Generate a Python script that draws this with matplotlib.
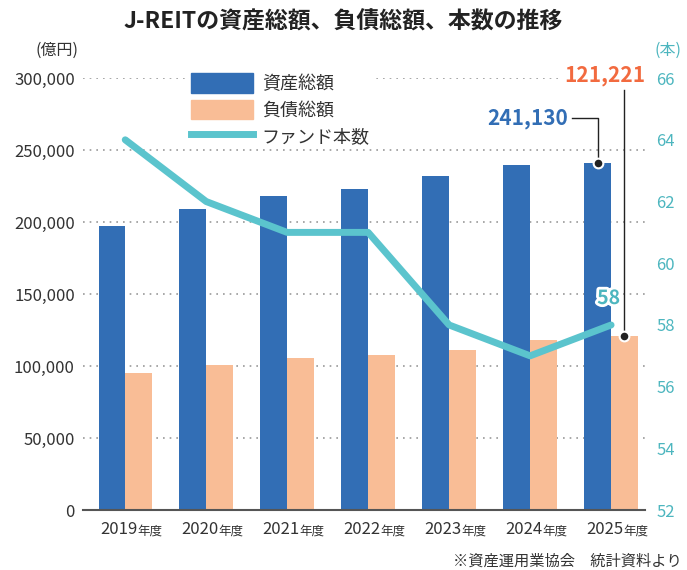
import matplotlib.pyplot as plt
import matplotlib.patheffects as pe
import numpy as np
from matplotlib.lines import Line2D
from matplotlib.patches import Patch

plt.rcParams["font.family"] = ["Noto Sans CJK JP", "DejaVu Sans"]

years = ["2019", "2020", "2021", "2022", "2023", "2024", "2025"]
assets = [197000, 209000, 218000, 223000, 232000, 239500, 241130]
debts = [95000, 101000, 105500, 108000, 111500, 118000, 121221]
funds = [64, 62, 61, 61, 58, 57, 58]
left_ticks = [0, 50000, 100000, 150000, 200000, 250000, 300000]
right_ticks = [52, 54, 56, 58, 60, 62, 64, 66]

BLUE = "#326eb5"
PEACH = "#f9bd96"
TEAL = "#5bc4cd"
TEAL_TXT = "#4db6bf"
ORANGE = "#f26a3f"
GRAY = "#333333"

fig = plt.figure(figsize=(6.87, 5.7), dpi=100)
ax = fig.add_axes([0.121, 0.105, 0.818, 0.758])
x = np.arange(len(years))
w = 0.33

ax.bar(x - w / 2, assets, w, color=BLUE, zorder=2)
ax.bar(x + w / 2, debts, w, color=PEACH, zorder=2)
ax.set_xlim(-0.52, 6.42)
ax.set_ylim(0, 300000)
ax.set_yticks(left_ticks)
ax.set_yticklabels([f"{v:,}" for v in left_ticks], fontsize=12, color=GRAY)
ax.yaxis.grid(True, linestyle=(0, (1, 3)), color="#999999", linewidth=1.2, zorder=0)
ax.tick_params(length=0, pad=6)
ax.set_xticks(x)
ax.set_xticklabels([])
for s in ["top", "left", "right"]:
    ax.spines[s].set_visible(False)
ax.spines["bottom"].set_color("#555555")
ax.spines["bottom"].set_linewidth(1.5)
ax.spines["bottom"].set_zorder(3)

# year labels: big digits, small "年度"
for xi, y in zip(x, years):
    ax.annotate(y, (xi, 0), xytext=(9, -8), textcoords="offset points",
                ha="right", va="top", fontsize=12, color=GRAY)
    ax.annotate("年度", (xi, 0), xytext=(9, -10.5), textcoords="offset points",
                ha="left", va="top", fontsize=9, color=GRAY)

ax2 = ax.twinx()
ax2.plot(x, funds, color=TEAL, linewidth=5, solid_capstyle="round",
         solid_joinstyle="round", zorder=3)
ax2.set_ylim(52, 66)
ax2.set_yticks(right_ticks)
ax2.set_yticklabels([str(v) for v in right_ticks], fontsize=12, color=TEAL_TXT)
ax2.tick_params(length=0, pad=8)
for s in ["top", "left", "right", "bottom"]:
    ax2.spines[s].set_visible(False)

ax2.text(x[-1] - 0.03, funds[-1] + 0.55, f"{funds[-1]}", color=TEAL_TXT,
         fontsize=14, fontweight="bold", ha="center", va="bottom", zorder=5,
         path_effects=[pe.withStroke(linewidth=4, foreground="white")])

# callouts for 2025
bx = x[-1] - w / 2
ax.plot([5.52, bx, bx], [272000, 272000, assets[-1]], color="#222222",
        linewidth=1, zorder=4, clip_on=False)
ax.plot([bx], [assets[-1]], "o", color="#222222", markersize=7,
        markeredgecolor="white", markeredgewidth=1.5, zorder=5)
ax.text(5.47, 272000, f"{assets[-1]:,}", color=BLUE, fontsize=15,
        fontweight="bold", ha="right", va="center", zorder=5)

px = x[-1] + w / 2
ax.plot([px, px], [291500, debts[-1]], color="#222222", linewidth=1,
        zorder=4, clip_on=False)
ax.plot([px], [debts[-1]], "o", color="#222222", markersize=7,
        markeredgecolor="white", markeredgewidth=1.5, zorder=5)
ax.text(6.42, 301500, f"{debts[-1]:,}", color=ORANGE, fontsize=15,
        fontweight="bold", ha="right", va="center", zorder=5, clip_on=False,
        bbox=dict(facecolor="white", edgecolor="none", pad=1))

handles = [Patch(color=BLUE), Patch(color=PEACH),
           Line2D([0], [0], color=TEAL, linewidth=5)]
ax2.legend(handles, ["資産総額", "負債総額", "ファンド本数"], loc="upper left",
           bbox_to_anchor=(0.17, 1.04), frameon=True, framealpha=1,
           edgecolor="none", fontsize=13, handlelength=3.4, handleheight=1.3,
           labelspacing=0.35, borderpad=0.2, handletextpad=0.5,
           labelcolor=GRAY)

fig.text(0.5, 0.962, "J-REITの資産総額、負債総額、本数の推移", ha="center",
         va="center", fontsize=16.5, fontweight="bold", color="#222222")
fig.text(0.083, 0.912, "(億円)", ha="center", va="center", fontsize=11.5,
         color=GRAY)
fig.text(0.972, 0.912, "(本)", ha="center", va="center", fontsize=11.5,
         color=TEAL_TXT)
fig.text(0.993, 0.016, "※資産運用業協会　統計資料より", ha="right",
         va="center", fontsize=11, color=GRAY)

fig.savefig("out.png", dpi=100)
